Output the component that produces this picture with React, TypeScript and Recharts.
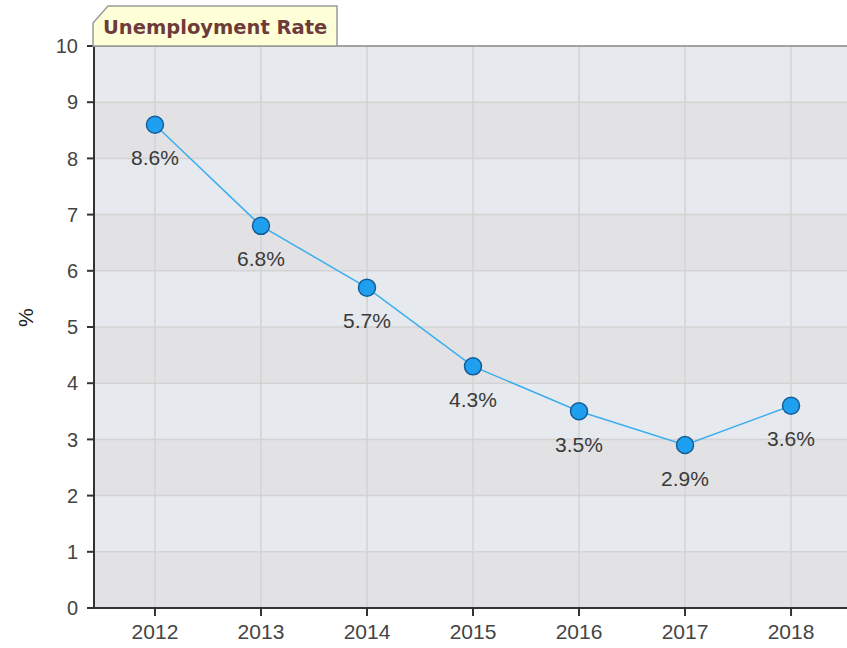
import {
  LineChart,
  Line,
  XAxis,
  YAxis,
  CartesianGrid,
  LabelList,
} from 'recharts';

const years = [2012, 2013, 2014, 2015, 2016, 2017, 2018];
const rates = [8.6, 6.8, 5.7, 4.3, 3.5, 2.9, 3.6];
const yTicks = [0, 1, 2, 3, 4, 5, 6, 7, 8, 9, 10];

const data = years.map((year, i) => ({ year, rate: rates[i] }));

const font = '"Liberation Sans", Arial, sans-serif';

const PointLabel = (props: any) => {
  const { x, y, value } = props;
  return (
    <text
      x={x}
      y={y + 33}
      textAnchor="middle"
      dominantBaseline="central"
      fontFamily={font}
      fontSize={21}
      fill="#3a3a3a"
    >
      {`${value}%`}
    </text>
  );
};

export default function App() {
  return (
    <div
      style={{
        position: 'absolute',
        left: 0,
        top: 0,
        width: 847,
        height: 648,
        overflow: 'hidden',
        background: '#fff',
      }}
    >
      <LineChart
        width={862}
        height={648}
        data={data}
        margin={{ top: 46, right: 10, bottom: 0, left: 0 }}
      >
        <CartesianGrid
          stroke="#d3d3d3"
          strokeWidth={1.5}
          horizontalFill={['#e6e9ed', '#e2e2e4']}
        />
        <XAxis
          dataKey="year"
          type="number"
          domain={[2011.425, 2018.575]}
          ticks={years}
          allowDataOverflow
          height={40}
          tickSize={8}
          tickMargin={8}
          stroke="#333"
          strokeWidth={2}
          tick={{ fill: '#444', fontSize: 21, fontFamily: font }}
        />
        <YAxis
          domain={[0, 10]}
          ticks={yTicks}
          width={94}
          tickSize={7}
          tickMargin={9}
          stroke="#333"
          strokeWidth={2}
          tick={{ fill: '#444', fontSize: 20, fontFamily: font }}
          label={{
            value: '%',
            angle: -90,
            position: 'insideLeft',
            offset: 26,
            style: { fill: '#222', fontSize: 21, fontFamily: font },
          }}
        />
        <Line
          type="linear"
          dataKey="rate"
          stroke="#3aaef0"
          strokeWidth={1.5}
          dot={{ r: 8.5, fill: '#1e9ff0', stroke: '#155d96', strokeWidth: 1.5 }}
          isAnimationActive={false}
        >
          <LabelList dataKey="rate" content={PointLabel} />
        </Line>
      </LineChart>
      <svg
        width={847}
        height={648}
        style={{ position: 'absolute', left: 0, top: 0, pointerEvents: 'none' }}
      >
        <line x1={93} y1={46} x2={847} y2={46} stroke="#8f8f8f" strokeWidth={1.5} />
        <path
          d="M93 46 L93 23 L108 6 L337 6 L337 46 Z"
          fill="#ffffd8"
          stroke="#9a9a9a"
          strokeWidth={1.5}
        />
        <text
          x={103}
          y={34}
          fontFamily='"DejaVu Sans", Verdana, sans-serif'
          fontWeight="bold"
          fontSize={19.5}
          fill="#6e3b3b"
        >
          Unemployment Rate
        </text>
      </svg>
    </div>
  );
}
